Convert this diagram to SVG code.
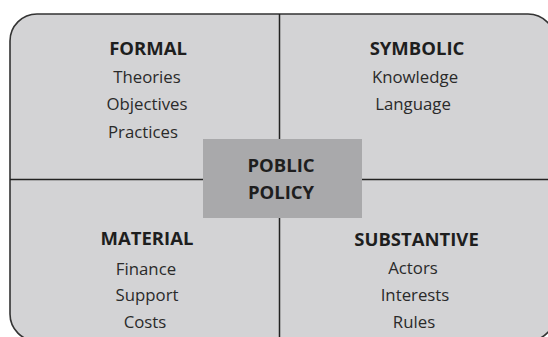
<svg xmlns="http://www.w3.org/2000/svg" width="548" height="337" viewBox="0 0 548 337">
<style>
.h{font-family:"Open Sans","Noto Sans",sans-serif;font-weight:bold;font-size:18.5px;fill:#1e1e1e;text-anchor:middle}
.t{font-family:"Open Sans","Noto Sans",sans-serif;font-size:16.8px;fill:#2a2a2a;text-anchor:middle}
.ln{stroke:#222;stroke-width:1.5;fill:none}
</style>
<rect width="548" height="337" fill="#ffffff"/>
<g id="frame">
<rect x="10" y="14" width="545" height="327" rx="27" ry="27" fill="#d3d3d5" stroke="#333" stroke-width="1.6"/>
</g>
<g id="connectors">
<line class="ln" x1="279.5" y1="14" x2="279.5" y2="341"/>
<line class="ln" x1="10" y1="179.5" x2="555" y2="179.5"/>
</g>
<g id="formal">
<text class="h" x="148" y="55">FORMAL</text>
<text class="t" x="147" y="83">Theories</text>
<text class="t" x="147" y="110">Objectives</text>
<text class="t" x="143" y="138">Practices</text>
</g>
<g id="symbolic">
<text class="h" x="417" y="55">SYMBOLIC</text>
<text class="t" x="415" y="83">Knowledge</text>
<text class="t" x="413" y="110">Language</text>
</g>
<g id="material">
<text class="h" x="147" y="245">MATERIAL</text>
<text class="t" x="146" y="275">Finance</text>
<text class="t" x="147" y="301">Support</text>
<text class="t" x="145" y="328">Costs</text>
</g>
<g id="substantive">
<text class="h" x="416.5" y="246">SUBSTANTIVE</text>
<text class="t" x="413" y="274">Actors</text>
<text class="t" x="415" y="301">Interests</text>
<text class="t" x="414" y="328">Rules</text>
</g>
<g id="center">
<rect x="203" y="139" width="159" height="79" fill="#a9a9ab"/>
<text class="h" x="281" y="172">POBLIC</text>
<text class="h" x="281" y="199">POLICY</text>
</g>
</svg>
